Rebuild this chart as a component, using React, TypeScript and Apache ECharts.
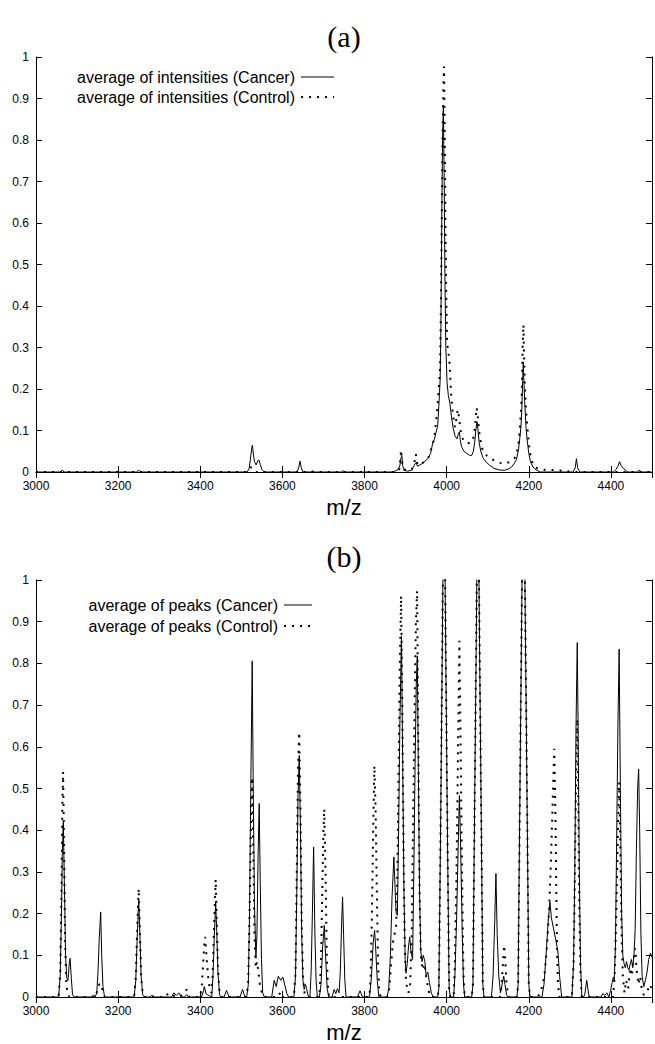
import React, { useEffect, useRef } from 'react';
import * as echarts from 'echarts';

const panelTitles = ['(a)', '(b)'];
const axisName = 'm/z';
const seriesNamesA = ['average of intensities (Cancer)', 'average of intensities (Control)'];
const seriesNamesB = ['average of peaks (Cancer)', 'average of peaks (Control)'];

const xMin = 3000;
const xMax = 4500;
const xStep = 200;
const yMin = 0;
const yMax = 1;
const yStep = 0.1;

// panel (a): average of intensities
const intensityCancer: [number, number][] = [
  [3000, 0], [3060, 0], [3064, 0.005], [3068, 0],
  [3245, 0], [3250, 0.005], [3255, 0],
  [3514, 0], [3519, 0.008], [3522, 0.03], [3525, 0.055], [3527, 0.065], [3529, 0.045], [3532, 0.025], [3536, 0.017], [3540, 0.027], [3543, 0.029], [3546, 0.018], [3550, 0.006], [3556, 0],
  [3636, 0], [3640, 0.012], [3643, 0.026], [3646, 0.01], [3650, 0],
  [3669, 0], [3673, 0.003], [3677, 0],
  [3744, 0], [3748, 0.003], [3752, 0],
  [3868, 0], [3876, 0.003], [3882, 0.006], [3886, 0.015], [3889, 0.035], [3891, 0.038], [3893, 0.015], [3897, 0.004], [3905, 0.002], [3914, 0.004], [3919, 0.012], [3923, 0.02], [3926, 0.022], [3929, 0.014], [3933, 0.016], [3940, 0.02], [3947, 0.026], [3955, 0.033], [3961, 0.045], [3966, 0.07], [3970, 0.078], [3974, 0.095], [3978, 0.11], [3981, 0.16], [3984, 0.22], [3986, 0.35], [3988, 0.6], [3990, 0.8], [3992, 0.884], [3994, 0.7], [3996, 0.45], [3998, 0.3], [4001, 0.215], [4004, 0.185], [4008, 0.165], [4012, 0.13], [4016, 0.105], [4020, 0.088], [4025, 0.08], [4028, 0.09], [4031, 0.097], [4033, 0.078], [4036, 0.062], [4042, 0.05], [4049, 0.045], [4056, 0.04], [4061, 0.04], [4065, 0.05], [4068, 0.07], [4071, 0.1], [4074, 0.121], [4076, 0.105], [4079, 0.072], [4083, 0.05], [4089, 0.033], [4096, 0.024], [4105, 0.016], [4115, 0.009], [4128, 0.005], [4140, 0.004], [4150, 0.007], [4158, 0.012], [4164, 0.02], [4170, 0.03], [4175, 0.055], [4178, 0.08], [4181, 0.11], [4183, 0.15], [4185, 0.22], [4186.5, 0.265], [4188, 0.22], [4190, 0.17], [4193, 0.11], [4196, 0.077], [4200, 0.045], [4204, 0.025], [4210, 0.012], [4218, 0.005], [4228, 0],
  [4308, 0], [4313, 0.01], [4316, 0.032], [4319, 0.01], [4324, 0],
  [4406, 0], [4412, 0.006], [4417, 0.014], [4421, 0.025], [4425, 0.015], [4431, 0.008], [4437, 0.003], [4442, 0],
  [4465, 0], [4469, 0.005], [4473, 0], [4500, 0],
];

const intensityControl: [number, number][] = [
  [3000, 0], [3512, 0], [3519, 0.006], [3524, 0.012], [3529, 0.005], [3536, 0],
  [3880, 0], [3885, 0.008], [3889, 0.053], [3892, 0.02], [3896, 0.006], [3905, 0.004], [3915, 0.006], [3921, 0.02], [3925, 0.043], [3928, 0.022], [3932, 0.016], [3939, 0.02], [3947, 0.026], [3955, 0.033], [3963, 0.057], [3970, 0.081], [3973, 0.11], [3977, 0.15], [3980, 0.19], [3984, 0.25], [3986, 0.4], [3988, 0.6], [3990, 0.8], [3992, 0.93], [3993.5, 0.977], [3995, 0.85], [3997, 0.6], [3999, 0.42], [4001, 0.31], [4004, 0.29], [4006, 0.275], [4008, 0.245], [4010, 0.2], [4013, 0.16], [4016, 0.133], [4020, 0.108], [4024, 0.13], [4027, 0.15], [4030, 0.132], [4034, 0.1], [4040, 0.077], [4048, 0.07], [4057, 0.069], [4063, 0.075], [4067, 0.09], [4070, 0.12], [4073, 0.155], [4076, 0.13], [4080, 0.09], [4085, 0.06], [4091, 0.046], [4097, 0.04], [4108, 0.032], [4118, 0.027], [4130, 0.022], [4142, 0.02], [4155, 0.025], [4165, 0.033], [4170, 0.04], [4175, 0.07], [4178, 0.1], [4181, 0.15], [4183, 0.19], [4185, 0.3], [4187, 0.355], [4189, 0.26], [4191, 0.19], [4193, 0.15], [4195, 0.125], [4199, 0.08], [4202, 0.05], [4208, 0.025], [4214, 0.012], [4225, 0.007], [4242, 0.005], [4266, 0.005], [4290, 0.002], [4310, 0], [4500, 0],
];

// panel (b): average of peaks
const peaksCancer: [number, number][] = [
  [3000, 0], [3055, 0], [3059, 0.05], [3062, 0.2], [3064, 0.34], [3066.5, 0.42], [3069, 0.28], [3072, 0.1], [3075, 0.045], [3078, 0.04], [3081, 0.08], [3083, 0.093], [3086, 0.045], [3089, 0.005], [3093, 0],
  [3136, 0], [3140, 0.005], [3144, 0], [3148, 0.01], [3151, 0.06], [3154, 0.14], [3157.5, 0.204], [3160, 0.1], [3163, 0.025], [3167, 0],
  [3239, 0], [3243, 0.04], [3246, 0.13], [3250, 0.234], [3253, 0.15], [3256, 0.05], [3260, 0.005], [3264, 0],
  [3278, 0], [3283, 0.005], [3288, 0], [3330, 0], [3336, 0.01], [3342, 0.004], [3348, 0.01], [3354, 0], [3362, 0], [3367, 0.006], [3372, 0],
  [3403, 0], [3407, 0.012], [3410, 0.025], [3414, 0.008], [3418, 0.005], [3424, 0.002], [3428, 0], [3431, 0.05], [3434, 0.14], [3437.5, 0.228], [3440, 0.16], [3443, 0.06], [3447, 0.005], [3451, 0],
  [3458, 0], [3464, 0.016], [3470, 0], [3497, 0], [3503, 0.018], [3509, 0],
  [3513, 0], [3517, 0.03], [3520, 0.2], [3523, 0.5], [3526.5, 0.806], [3529, 0.5], [3532, 0.22], [3535.5, 0.093], [3538, 0.15], [3541, 0.35], [3543.5, 0.464], [3546, 0.28], [3549, 0.09], [3552, 0.01], [3556, 0],
  [3574, 0], [3580, 0.04], [3585, 0.025], [3590, 0.05], [3596, 0.04], [3601, 0.048], [3606, 0.028], [3611, 0.008], [3615, 0],
  [3628, 0], [3632, 0.05], [3635, 0.25], [3638, 0.48], [3641, 0.579], [3644, 0.4], [3647, 0.15], [3650, 0.04], [3653, 0.018], [3656, 0.03], [3659, 0.02], [3662, 0.005], [3665, 0],
  [3667, 0], [3670, 0.06], [3673, 0.2], [3676, 0.36], [3679, 0.16], [3682, 0.04], [3685, 0],
  [3690, 0], [3694, 0.03], [3698, 0.12], [3702, 0.172], [3705, 0.1], [3709, 0.02], [3713, 0],
  [3721, 0], [3726, 0.018], [3730, 0.008], [3734, 0.02], [3738, 0.01],
  [3741, 0.06], [3744, 0.17], [3746.5, 0.24], [3749, 0.15], [3752, 0.04], [3755, 0],
  [3783, 0], [3789, 0.015], [3795, 0],
  [3812, 0], [3817, 0.05], [3821, 0.13], [3824.5, 0.16], [3827, 0.12], [3831, 0.04], [3835, 0],
  [3855, 0], [3859, 0.02], [3863, 0.1], [3867, 0.24], [3871.5, 0.336], [3874, 0.27], [3877, 0.2], [3880, 0.196], [3883, 0.4], [3886, 0.65], [3890, 0.866], [3893, 0.55], [3896, 0.25], [3899, 0.09], [3901, 0.057], [3904, 0.08], [3907, 0.12], [3910, 0.144], [3913, 0.11], [3917, 0.09], [3920, 0.3], [3923, 0.55], [3926, 0.75], [3928.5, 0.818], [3931, 0.55], [3934, 0.25], [3937, 0.11], [3940, 0.085], [3943, 0.1], [3947, 0.085], [3950, 0.05], [3954, 0.06], [3958, 0.035], [3963, 0.008], [3968, 0],
  [3978, 0], [3981, 0.02], [3985, 0.38], [3989, 0.8], [3993.5, 1.3], [3998, 0.8], [4002, 0.38], [4006, 0.02], [4009, 0],
  [4017, 0], [4020, 0.05], [4024, 0.18], [4028, 0.36], [4031, 0.483], [4034, 0.36], [4038, 0.15], [4041, 0.03], [4044, 0],
  [4061, 0], [4064, 0.03], [4068, 0.45], [4072, 0.85], [4076, 1.3], [4080, 0.85], [4084, 0.45], [4088, 0.03], [4091, 0],
  [4109, 0], [4113, 0.05], [4117, 0.18], [4120, 0.296], [4123, 0.15], [4127, 0.05], [4131, 0.01], [4135, 0.03], [4139, 0.05], [4142, 0.03], [4146, 0.005], [4150, 0],
  [4171, 0], [4174, 0.03], [4178, 0.45], [4182, 0.85], [4187, 1.35], [4192, 0.85], [4196, 0.45], [4200, 0.03], [4203, 0],
  [4232, 0], [4237, 0.03], [4242, 0.1], [4247, 0.18], [4251.5, 0.228], [4255, 0.19], [4260, 0.165], [4266, 0.135], [4271, 0.108], [4275, 0.05], [4280, 0],
  [4305, 0], [4309, 0.08], [4312, 0.3], [4315, 0.65], [4318, 0.85], [4320, 0.65], [4323, 0.3], [4326, 0.08], [4329, 0.005], [4333, 0],
  [4336, 0.004], [4341, 0.04], [4346, 0.005], [4350, 0],
  [4376, 0], [4380, 0.008], [4385, 0.004], [4390, 0.01], [4395, 0],
  [4399, 0.015], [4403, 0.035], [4406, 0.048], [4408, 0.04], [4411, 0.12], [4414, 0.38], [4417, 0.65], [4420, 0.834], [4423, 0.5], [4426, 0.2], [4429, 0.1], [4432, 0.08], [4435, 0.07], [4438, 0.085], [4441, 0.07], [4444, 0.065], [4447, 0.08], [4450, 0.09], [4453, 0.07], [4456, 0.1], [4459, 0.16], [4462, 0.35], [4465, 0.5], [4467.5, 0.547], [4470, 0.4], [4473, 0.15], [4476, 0.05], [4480, 0.025], [4484, 0.04], [4488, 0.06], [4492, 0.09], [4496, 0.105], [4500, 0.095],
];

const peaksControl: [number, number][] = [
  [3000, 0], [3055, 0], [3059, 0.06], [3062, 0.25], [3064, 0.45], [3066, 0.54], [3068, 0.38], [3071, 0.13], [3074, 0.03], [3077, 0.008], [3081, 0],
  [3146, 0], [3150, 0.02], [3154, 0.03], [3159, 0.032], [3163, 0.01], [3167, 0],
  [3239, 0], [3243, 0.05], [3246, 0.15], [3250, 0.26], [3253, 0.16], [3256, 0.05], [3260, 0.005], [3264, 0],
  [3310, 0], [3318, 0.008], [3326, 0], [3340, 0.004], [3350, 0], [3360, 0.01], [3367, 0.018], [3373, 0],
  [3400, 0], [3404, 0.03], [3407, 0.08], [3410, 0.13], [3412, 0.144], [3415, 0.1], [3419, 0.05], [3423, 0.02], [3427, 0.01], [3430, 0.05], [3434, 0.18], [3437.5, 0.282], [3440, 0.19], [3443, 0.07], [3447, 0.008], [3452, 0],
  [3513, 0], [3517, 0.04], [3520, 0.2], [3523, 0.4], [3526.5, 0.527], [3529, 0.35], [3532, 0.15], [3535, 0.07], [3538, 0.085], [3541, 0.065], [3545, 0.03], [3550, 0.01], [3555, 0],
  [3590, 0], [3595, 0.012], [3600, 0],
  [3628, 0], [3632, 0.06], [3635, 0.3], [3638, 0.55], [3641, 0.635], [3644, 0.45], [3647, 0.18], [3650, 0.05], [3654, 0.01], [3658, 0],
  [3690, 0], [3694, 0.08], [3697, 0.25], [3700, 0.4], [3702, 0.451], [3705, 0.3], [3708, 0.1], [3711, 0.02], [3714, 0],
  [3812, 0], [3815, 0.05], [3818, 0.2], [3821, 0.4], [3824, 0.555], [3827, 0.45], [3830, 0.25], [3833, 0.08], [3836, 0.01], [3840, 0],
  [3855, 0], [3860, 0.02], [3865, 0.08], [3869, 0.13], [3873, 0.15], [3877, 0.17], [3880, 0.3], [3883, 0.55], [3886, 0.8], [3889, 0.962], [3892, 0.7], [3895, 0.35], [3898, 0.12], [3901, 0.04], [3904, 0.02], [3907, 0.01], [3911, 0.03], [3915, 0.15], [3918, 0.4], [3922, 0.7], [3925, 0.9], [3928, 0.974], [3931, 0.6], [3934, 0.25], [3937, 0.1], [3941, 0.065], [3946, 0.08], [3950, 0.05], [3955, 0.02], [3960, 0],
  [3978, 0], [3981, 0.02], [3985, 0.38], [3989, 0.8], [3993.5, 1.3], [3998, 0.8], [4002, 0.38], [4006, 0.02], [4009, 0],
  [4017, 0], [4020, 0.08], [4024, 0.3], [4028, 0.62], [4031, 0.854], [4034, 0.6], [4038, 0.25], [4041, 0.05], [4044, 0],
  [4061, 0], [4064, 0.03], [4068, 0.45], [4072, 0.85], [4076, 1.3], [4080, 0.85], [4084, 0.45], [4088, 0.03], [4091, 0],
  [4130, 0], [4134, 0.03], [4137, 0.08], [4140, 0.124], [4143, 0.08], [4146, 0.03], [4150, 0],
  [4171, 0], [4174, 0.03], [4178, 0.45], [4182, 0.85], [4187, 1.35], [4192, 0.85], [4196, 0.45], [4200, 0.03], [4203, 0],
  [4222, 0], [4230, 0.015], [4238, 0.05], [4245, 0.13], [4250, 0.22], [4254, 0.33], [4257, 0.43], [4260, 0.53], [4262, 0.595], [4265, 0.42], [4267, 0.25], [4269, 0.1], [4271, 0.03], [4275, 0],
  [4305, 0], [4309, 0.08], [4312, 0.28], [4315, 0.52], [4318, 0.667], [4320, 0.5], [4323, 0.22], [4326, 0.05], [4329, 0],
  [4405, 0], [4409, 0.05], [4413, 0.2], [4417, 0.4], [4420, 0.515], [4423, 0.35], [4426, 0.15], [4429, 0.05], [4433, 0.01], [4437, 0.04], [4442, 0.02], [4447, 0.07], [4451, 0.05], [4455, 0.09], [4459, 0.117], [4463, 0.06], [4467, 0.03], [4471, 0.05], [4475, 0.02], [4480, 0.005], [4488, 0.01], [4494, 0.03], [4500, 0.02],
];

const SANS = '"Liberation Sans", Arial, sans-serif';
const SERIF = '"Liberation Serif", "Times New Roman", serif';

const GRIDS = [
  { left: 36, top: 57, width: 616, height: 415 },
  { left: 36, top: 580, width: 616, height: 417 },
];

const tickStyle = { show: true, inside: true, length: 6, lineStyle: { color: '#000', width: 1 } };
const lineAxis = { show: true, lineStyle: { color: '#000', width: 1 } };

function xAxes(gridIndex: number) {
  const base = {
    gridIndex,
    type: 'value' as const,
    min: xMin,
    max: xMax,
    interval: xStep,
    splitLine: { show: false },
    axisLine: lineAxis,
    axisTick: tickStyle,
  };
  return [
    {
      ...base,
      position: 'bottom',
      name: axisName,
      nameLocation: 'middle',
      nameGap: 24,
      nameTextStyle: { fontFamily: SANS, fontSize: 22, color: '#000' },
      axisLabel: {
        color: '#000',
        fontFamily: SANS,
        fontSize: 12,
        margin: 8,
        showMaxLabel: false,
        formatter: (v: number) => String(v),
      },
    },
    { ...base, position: 'top', axisLabel: { show: false } },
  ];
}

function yAxes(gridIndex: number) {
  const base = {
    gridIndex,
    type: 'value' as const,
    min: yMin,
    max: yMax,
    interval: yStep,
    splitLine: { show: false },
    axisLine: lineAxis,
    axisTick: tickStyle,
  };
  return [
    { ...base, position: 'left', axisLabel: { color: '#000', fontFamily: SANS, fontSize: 12, margin: 7 } },
    { ...base, position: 'right', axisLabel: { show: false } },
  ];
}

const solidStyle = { color: '#000', width: 1, type: 'solid' as const };
const dotStyle = { color: '#000', width: 2, type: [2, 6], cap: 'butt' as const };

function legendGraphics(names: string[], textRight: number, lineX0: number, lineX1: number, y0: number, y1: number) {
  return [
    { type: 'text', x: textRight, y: y0, style: { text: names[0], textAlign: 'right', textVerticalAlign: 'middle', font: `16px ${SANS}`, fill: '#000' } },
    { type: 'line', shape: { x1: lineX0, y1: y0, x2: lineX1, y2: y0 }, style: { stroke: '#000', lineWidth: 1 } },
    { type: 'text', x: textRight, y: y1, style: { text: names[1], textAlign: 'right', textVerticalAlign: 'middle', font: `16px ${SANS}`, fill: '#000' } },
    { type: 'line', shape: { x1: lineX0, y1: y1, x2: lineX1, y2: y1 }, style: { stroke: '#000', lineWidth: 2, lineDash: [2, 6] } },
  ];
}

export default function App() {
  const ref = useRef<HTMLDivElement>(null);
  useEffect(() => {
    if (!ref.current) return;
    const chart = echarts.init(ref.current, null, { renderer: 'svg' });
    const option: any = {
      animation: false,
      backgroundColor: '#fff',
      grid: GRIDS.map((g) => ({ ...g, containLabel: false })),
      xAxis: [...xAxes(0), ...xAxes(1)],
      yAxis: [...yAxes(0), ...yAxes(1)],
      series: [
        { name: seriesNamesA[0], type: 'line', xAxisIndex: 0, yAxisIndex: 0, data: intensityCancer, showSymbol: false, symbol: 'none', lineStyle: solidStyle, clip: true },
        { name: seriesNamesA[1], type: 'line', xAxisIndex: 0, yAxisIndex: 0, data: intensityControl, showSymbol: false, symbol: 'none', lineStyle: dotStyle, clip: true },
        { name: seriesNamesB[0], type: 'line', xAxisIndex: 2, yAxisIndex: 2, data: peaksCancer, showSymbol: false, symbol: 'none', lineStyle: solidStyle, clip: true },
        { name: seriesNamesB[1], type: 'line', xAxisIndex: 2, yAxisIndex: 2, data: peaksControl, showSymbol: false, symbol: 'none', lineStyle: dotStyle, clip: true },
      ],
      graphic: [
        { type: 'text', x: 344, y: 36, style: { text: panelTitles[0], textAlign: 'center', textVerticalAlign: 'middle', font: `30px ${SERIF}`, fill: '#000' } },
        { type: 'text', x: 344, y: 556, style: { text: panelTitles[1], textAlign: 'center', textVerticalAlign: 'middle', font: `30px ${SERIF}`, fill: '#000' } },
        ...legendGraphics(seriesNamesA, 295, 301, 334, 77, 97),
        ...legendGraphics(seriesNamesB, 278, 284, 312, 605, 626),
      ],
    };
    chart.setOption(option);
    return () => chart.dispose();
  }, []);
  return (
    <div
      ref={ref}
      style={{ position: 'absolute', left: 0, top: 0, width: 655, height: 1044, background: '#fff' }}
    />
  );
}
